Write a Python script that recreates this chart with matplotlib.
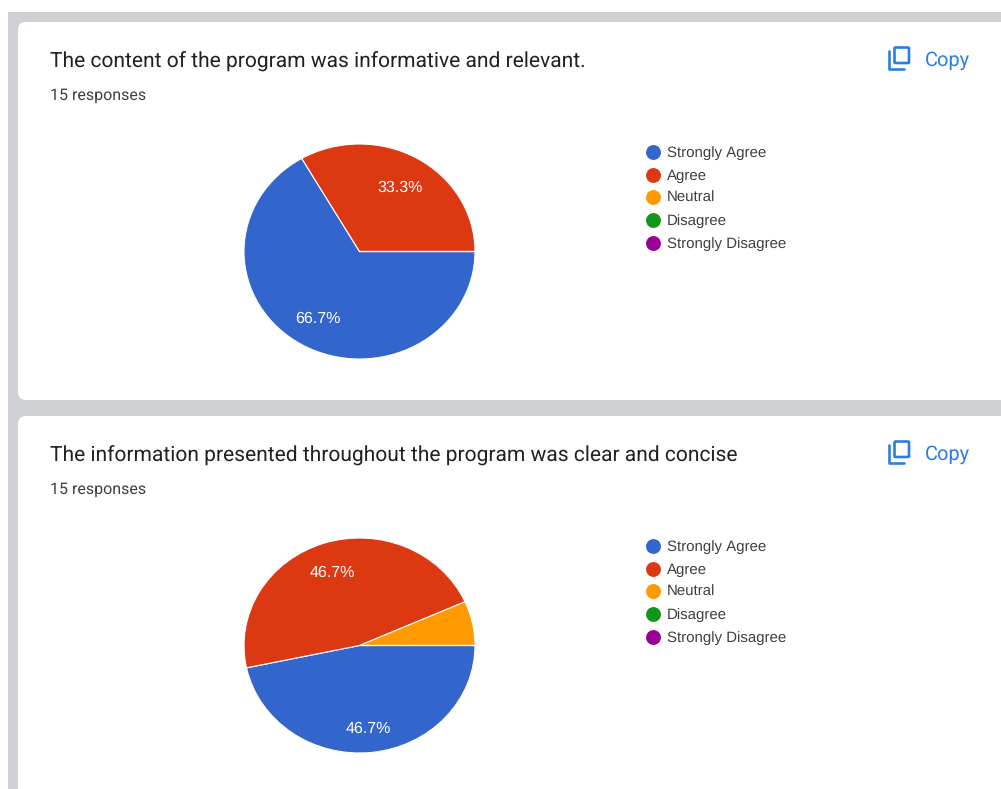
#!/usr/bin/env python3
# Two survey pie charts, laid out like the Google Forms summary cards
import matplotlib
matplotlib.use("Agg")
import matplotlib.pyplot as plt
from matplotlib.patches import FancyBboxPatch

W, H = 1001, 789

categories = ["Strongly Agree", "Agree", "Neutral", "Disagree", "Strongly Disagree"]
colors = ["#3366cc", "#dc3912", "#ff9900", "#109618", "#990099"]
titles = ["The content of the program was informative and relevant.",
          "The information presented throughout the program was clear and concise"]
responses = "15 responses"
values_q1 = [10, 5, 0, 0, 0]
values_q2 = [7, 7, 1, 0, 0]
legend_y = [152, 175, 197, 220, 243]

plt.rcParams["font.family"] = ["Roboto", "DejaVu Sans"]
plt.rcParams["text.hinting"] = "no_hinting"
plt.rcParams["text.hinting_factor"] = 1


def autopct(p):
    return f"{p:.1f}%" if p > 10 else ""


def draw_card(bg, fig, dy, title, values, label_nudge):
    bg.text(50, 67.6 + dy, title, fontsize=15.2, color="#202124", va="baseline", ha="left")
    bg.text(50, 100 + dy, responses, fontsize=11.3, color="#3c4043", va="baseline", ha="left")

    # copy icon
    blue = "#2a7de9"
    bg.add_patch(FancyBboxPatch((894.5, 47.5 + dy), 14.5, 15.5, boxstyle="round,pad=0,rounding_size=1",
                                fc="none", ec=blue, lw=1.9))
    bg.plot([888.5, 888.5, 904], [51 + dy, 69 + dy, 69 + dy], color=blue, lw=1.9,
            solid_capstyle="round", solid_joinstyle="round")
    bg.text(925, 65.6 + dy, "Copy", fontsize=14.4, color=blue, va="baseline", ha="left")

    # legend
    for cat, col, ly in zip(categories, colors, legend_y):
        bg.scatter([653], [ly + dy], s=115, color=col, linewidths=0, zorder=3)
        bg.text(667, ly + 5 + dy, cat, fontsize=11.02, color="#3c4043", va="baseline", ha="left",
                family="Liberation Sans")

    # pie: 244-475 wide, 144-359 tall, the source is slightly stretched
    left, right, top, bottom = 244, 475, 144 + dy, 359 + dy
    ax = fig.add_axes([left / W, 1 - bottom / H, (right - left) / W, (bottom - top) / H])
    _, _, pct = ax.pie(values, colors=colors, startangle=0, counterclock=False, radius=1,
                       autopct=autopct, pctdistance=0.7,
                       wedgeprops={"edgecolor": "white", "linewidth": 0.8})
    for t, (nudge_x, nudge_y) in zip(pct, label_nudge):
        t.set_color("white")
        t.set_fontsize(11.2)
        t.set_family("Liberation Sans")
        # labels sit a little off the mid radius in the source (axes units)
        x, y = t.get_position()
        t.set_position((x + nudge_x, y + nudge_y))
    ax.set_aspect("auto")
    ax.set_xlim(-1, 1)
    ax.set_ylim(-1, 1)
    ax.axis("off")


fig = plt.figure(figsize=(W / 100, H / 100), dpi=100, facecolor="white")
bg = fig.add_axes([0, 0, 1, 1])
bg.set_xlim(0, W)
bg.set_ylim(H, 0)
bg.axis("off")

# gray page and white cards
bg.fill_between([8, W], 12, H, color="#cfd0d4", lw=0)
for top, bottom in [(22, 400), (416, 860)]:
    bg.add_patch(FancyBboxPatch((18, top), 1100, bottom - top,
                                boxstyle="round,pad=0,rounding_size=8",
                                fc="white", ec="none"))

draw_card(bg, fig, 0, titles[0], values_q1, [(-0.01, -0.02), (0, -0.015)])
draw_card(bg, fig, 394, titles[1], values_q2, [(0, -0.075), (-0.02, 0.01), (0, 0)])

fig.savefig("out.png", dpi=100, facecolor="white")
